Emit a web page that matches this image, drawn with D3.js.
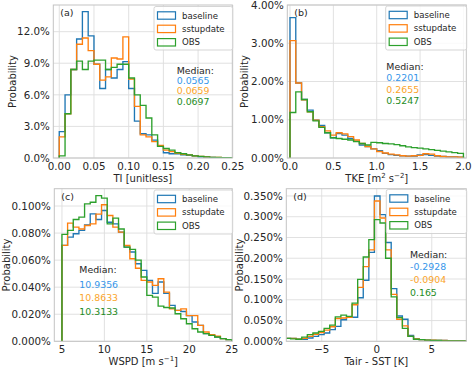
<!DOCTYPE html>
<html><head><meta charset="utf-8">
<script src="https://cdn.jsdelivr.net/npm/d3@7"></script>
<style>body{margin:0;background:#fff}svg{display:block}</style>
</head><body><svg id="c" width="474" height="367"></svg>
<script>
const seriesNames = ["baseline", "sstupdate", "OBS"];

// (a) TI histogram, probability in %
const tiBinStart = 0, tiBinWidth = 0.25 / 30;
const tiBaseline = [2.5,6.0,8.4,11.3,13.9,11.6,8.9,6.6,8.4,7.6,8.4,9.15,6.6,3.5,2.3,2.2,1.7,1.1,0.5,0.4,0.4,0.3,0.25,0.2,0.1,0.08,0.05,0.04,0.03,0.02];
const tiSstupdate = [2.0,4.2,8.4,10.8,11.4,10.2,8.9,7.4,7.7,9.5,9.4,11.5,7.5,4.9,2.2,2.0,1.55,1.2,0.75,0.6,0.45,0.35,0.3,0.2,0.15,0.1,0.06,0.05,0.04,0.03];
const tiObs = [0.2,4.2,8.4,9.2,8.4,9.2,9.3,9.3,8.4,8.6,8.9,8.9,7.6,6.0,5.0,3.8,2.2,1.1,0.9,0.75,0.5,0.4,0.3,0.2,0.15,0.1,0.06,0.05,0.04,0.03];
const tiTicksX = [0, 0.05, 0.10, 0.15, 0.20, 0.25];
const tiTicksY = [0, 3, 6, 9, 12];
const tiMedians = ["0.0565", "0.0659", "0.0697"];

// (b) TKE histogram
const tkeBinStart = 0, tkeBinWidth = 2 / 30;
const tkeBaseline = [3.67,1.96,1.53,1.25,0.99,0.85,0.66,0.53,0.64,0.60,0.51,0.44,0.34,0.30,0.24,0.19,0.12,0.09,0.07,0.06,0.05,0.05,0.08,0.09,0.07,0.05,0.04,0.03,0.03,0.02];
const tkeSstupdate = [3.07,1.96,1.52,1.21,0.99,0.82,0.71,0.60,0.66,0.63,0.56,0.47,0.38,0.30,0.24,0.17,0.13,0.10,0.08,0.06,0.05,0.06,0.07,0.11,0.10,0.06,0.04,0.03,0.03,0.02];
const tkeObs = [1.19,1.73,1.53,1.21,0.97,0.80,0.66,0.53,0.51,0.49,0.47,0.43,0.38,0.34,0.41,0.40,0.38,0.37,0.35,0.32,0.29,0.27,0.26,0.24,0.22,0.20,0.18,0.16,0.14,0.12];
const tkeTicksX = [0, 0.5, 1.0, 1.5, 2.0];
const tkeTicksY = [0, 1, 2, 3, 4];
const tkeMedians = ["0.2201", "0.2655", "0.5247"];

// (c) WSPD histogram
const wsBinStart = 5, wsBinWidth = 20 / 30;
const wsBaseline = [0.0709,0.077,0.0795,0.082,0.086,0.0942,0.090,0.0967,0.088,0.0868,0.0807,0.0696,0.066,0.0573,0.0524,0.045,0.0354,0.0438,0.0354,0.0266,0.0229,0.022,0.019,0.0143,0.0118,0.0057,0.0044,0.0032,0.002,0.0012];
const wsSstupdate = [0.0709,0.0873,0.0844,0.083,0.0856,0.0868,0.094,0.1009,0.093,0.0844,0.0807,0.0708,0.061,0.054,0.045,0.0438,0.0413,0.0462,0.0364,0.024,0.0229,0.024,0.019,0.019,0.0118,0.0069,0.0049,0.0037,0.002,0.0012];
const wsObs = [0.079,0.082,0.090,0.0918,0.1016,0.1028,0.1077,0.1058,0.0868,0.091,0.083,0.0696,0.068,0.060,0.0475,0.034,0.0327,0.026,0.025,0.0246,0.0204,0.0167,0.013,0.0093,0.0069,0.0057,0.0044,0.0032,0.002,0.0012];
const wsTicksX = [5, 10, 15, 20, 25];
const wsTicksY = [0, 0.02, 0.04, 0.06, 0.08, 0.10];
const wsMedians = ["10.9356", "10.8633", "10.3133"];

// (d) Tair - SST histogram
const dtBinStart = -8.338, dtBinWidth = 0.508;
const dtBaseline = [0.007,0.007,0.005,0.005,0.008,0.012,0.016,0.020,0.028,0.036,0.052,0.058,0.058,0.105,0.147,0.214,0.350,0.305,0.238,0.127,0.061,0.053,0.014,0.006,0.004,0.003,0.002,0.002,0.002,0.001,0.001,0.001,0.001];
const dtSstupdate = [0.007,0.007,0.005,0.007,0.012,0.017,0.021,0.027,0.035,0.055,0.056,0.058,0.088,0.130,0.180,0.220,0.338,0.297,0.220,0.113,0.053,0.037,0.012,0.006,0.004,0.003,0.003,0.002,0.002,0.001,0.001,0.001,0.001];
const dtObs = [0.007,0.006,0.005,0.010,0.016,0.020,0.024,0.031,0.039,0.059,0.063,0.060,0.092,0.149,0.203,0.245,0.293,0.285,0.200,0.107,0.057,0.031,0.012,0.005,0.004,0.003,0.002,0.002,0.001,0.001,0.001,0.001,0.001];
const dtTicksX = [-5, 0, 5];
const dtTicksY = [0, 0.05, 0.10, 0.15, 0.20, 0.25, 0.30, 0.35];
const dtMedians = ["-0.2928", "-0.0904", "0.165"];

const colors = ["#1f77b4", "#ff7f0e", "#2ca02c"];
const medianColors = ["#3596ea", "#fba52a", "#1e8c1e"];
const FONT = "DejaVu Sans, sans-serif";
const TXT = "#262626";
const svg = d3.select("#c");

const panels = [
  {id:"a", label:"(a)", start:tiBinStart, width:tiBinWidth, series:[tiBaseline,tiSstupdate,tiObs],
   box:{l:53.3,r:232.3,t:5,b:158}, xdom:[-0.0086,0.2493], ydom:[0,14.53], xt:tiTicksX, yt:tiTicksY,
   xfmt:d=>d.toFixed(2), yfmt:d=>d.toFixed(1)+"%", xlabel:["TI [unitless]"], ylabX:12.5,
   leg:{x:154,y:6.5,w:78.7,h:43.5}, med:tiMedians, medX:176.7, medY:[70.7,80.9,91,101.1]},
  {id:"b", label:"(b)", start:tkeBinStart, width:tkeBinWidth, series:[tkeBaseline,tkeSstupdate,tkeObs],
   box:{l:287.3,r:466.3,t:5,b:158}, xdom:[-0.031,2.033], ydom:[0,4.0], xt:tkeTicksX, yt:tkeTicksY,
   xfmt:d=>d.toFixed(1), yfmt:d=>d.toFixed(2)+"%", xlabel:"tke", ylabX:244.5,
   leg:{x:385.7,y:6,w:81,h:44}, med:tkeMedians, medX:386.3, medY:[66.5,78,89.5,101]},
  {id:"c", label:"(c)", start:wsBinStart, width:wsBinWidth, series:[wsBaseline,wsSstupdate,wsObs],
   box:{l:54.3,r:232.3,t:188.7,b:341.3}, xdom:[4.1,25.07], ydom:[0,0.1128], xt:wsTicksX, yt:wsTicksY,
   xfmt:d=>String(d), yfmt:d=>d.toFixed(3)+"%", xlabel:"ws", ylabX:6.8,
   leg:{x:154,y:190,w:78.7,h:44}, med:wsMedians, medX:79.3, medY:[270,284.5,298,311.5]},
  {id:"d", label:"(d)", start:dtBinStart, width:dtBinWidth, series:[dtBaseline,dtSstupdate,dtObs],
   box:{l:286.3,r:466.3,t:188.7,b:341.3}, xdom:[-8.22,8.14], ydom:[0,0.3675], xt:dtTicksX, yt:dtTicksY,
   xfmt:d3.format("d"), yfmt:d=>d.toFixed(3)+"%", xlabel:["Tair - SST [K]"], ylabX:239.5,
   leg:{x:386.3,y:189.5,w:80.4,h:44}, med:dtMedians, medX:410, medY:[254.5,267,279.7,292.4]}
];

panels.forEach(p => {
  const B = p.box;
  const x = d3.scaleLinear().domain(p.xdom).range([B.l, B.r]);
  const y = d3.scaleLinear().domain(p.ydom).range([B.b, B.t]);
  const g = svg.append("g");
  const clipId = "clip-" + p.id;
  svg.append("clipPath").attr("id", clipId).append("rect")
    .attr("x", B.l).attr("y", B.t - 2).attr("width", B.r - B.l).attr("height", B.b - B.t + 2);

  // grid
  g.append("g").selectAll("line").data(p.xt).join("line")
    .attr("x1", d => x(d)).attr("x2", d => x(d)).attr("y1", B.t).attr("y2", B.b)
    .attr("stroke", "#dedede").attr("stroke-width", 0.9);
  g.append("g").selectAll("line").data(p.yt).join("line")
    .attr("y1", d => y(d)).attr("y2", d => y(d)).attr("x1", B.l).attr("x2", B.r)
    .attr("stroke", "#dedede").attr("stroke-width", 0.9);

  // histograms (step outline)
  const line = d3.line().x(d => x(d[0])).y(d => y(d[1]));
  p.series.forEach((vals, si) => {
    const pts = [[p.start, 0]];
    vals.forEach((v, i) => {
      pts.push([p.start + i * p.width, v]);
      pts.push([p.start + (i + 1) * p.width, v]);
    });
    pts.push([p.start + vals.length * p.width, 0]);
    g.append("path").attr("d", line(pts)).attr("fill", "none")
      .attr("stroke", colors[si]).attr("stroke-width", 1.35)
      .attr("stroke-linejoin", "miter").attr("clip-path", `url(#${clipId})`);
  });

  // frame
  g.append("rect").attr("x", B.l).attr("y", B.t).attr("width", B.r - B.l).attr("height", B.b - B.t)
    .attr("fill", "none").attr("stroke", "#c4c4c4").attr("stroke-width", 1);

  // tick labels
  g.append("g").selectAll("text").data(p.xt).join("text")
    .attr("x", d => x(d)).attr("y", B.b + 11.8).attr("text-anchor", "middle")
    .attr("font-family", FONT).attr("font-size", 10.3).attr("fill", TXT).text(p.xfmt);
  g.append("g").selectAll("text").data(p.yt).join("text")
    .attr("x", B.l - 3.5).attr("y", d => y(d) + 3.7).attr("text-anchor", "end")
    .attr("font-family", FONT).attr("font-size", 10.3).attr("fill", TXT).text(p.yfmt);

  // axis labels
  const xl = g.append("text").attr("x", (B.l + B.r) / 2).attr("y", B.b + 23.5)
    .attr("text-anchor", "middle").attr("font-family", FONT).attr("font-size", 10).attr("fill", TXT);
  if (p.xlabel === "tke") {
    xl.append("tspan").text("TKE [m");
    xl.append("tspan").text("2").attr("font-size", 7).attr("dy", -4);
    xl.append("tspan").text(" s").attr("dy", 4);
    xl.append("tspan").text("−2").attr("font-size", 7).attr("dy", -4);
    xl.append("tspan").text("]").attr("dy", 4);
  } else if (p.xlabel === "ws") {
    xl.append("tspan").text("WSPD [m s");
    xl.append("tspan").text("−1").attr("font-size", 7).attr("dy", -4);
    xl.append("tspan").text("]").attr("dy", 4);
  } else {
    xl.text(p.xlabel[0]);
  }
  g.append("text").attr("transform", `translate(${p.ylabX + 3.5},${(B.t + B.b) / 2}) rotate(-90)`)
    .attr("text-anchor", "middle").attr("font-family", FONT).attr("font-size", 10).attr("fill", TXT)
    .text("Probability");

  // panel label
  g.append("text").attr("x", B.l + 7).attr("y", B.t + 11).attr("font-family", FONT)
    .attr("font-size", 9.5).attr("fill", TXT).text(p.label);

  // legend
  const L = p.leg;
  g.append("rect").attr("x", L.x).attr("y", L.y).attr("width", L.w).attr("height", L.h)
    .attr("rx", 2).attr("fill", "rgba(255,255,255,0.8)").attr("stroke", "#d0d0d0").attr("stroke-width", 0.9);
  seriesNames.forEach((nm, i) => {
    const cy = L.y + 9 + i * 13.4;
    g.append("rect").attr("x", L.x + 3.5).attr("y", cy - 3.7).attr("width", 18).attr("height", 7.4)
      .attr("fill", "none").attr("stroke", colors[i]).attr("stroke-width", 1.2);
    g.append("text").attr("x", L.x + 28).attr("y", cy + 3).attr("font-family", FONT)
      .attr("font-size", 8.6).attr("fill", TXT).text(nm);
  });

  // median annotation
  g.append("text").attr("x", p.medX).attr("y", p.medY[0] + 3.4).attr("font-family", FONT)
    .attr("font-size", 9.4).attr("fill", TXT).text("Median:");
  p.med.forEach((m, i) => {
    g.append("text").attr("x", p.medX).attr("y", p.medY[i + 1] + 3.4).attr("font-family", FONT)
      .attr("font-size", 9.4).attr("fill", medianColors[i]).text(m);
  });
});
</script></body></html>
